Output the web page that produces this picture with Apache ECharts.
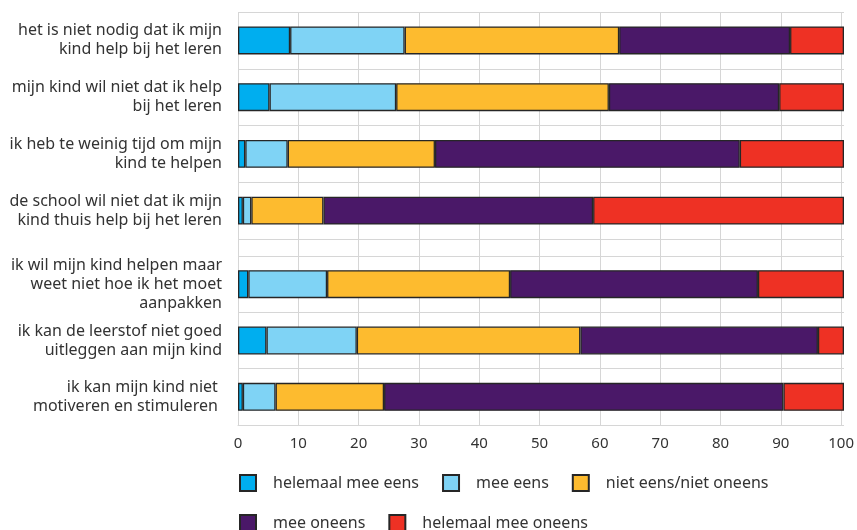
<!DOCTYPE html>
<html>
<head>
<meta charset="utf-8">
<script src="https://cdn.jsdelivr.net/npm/echarts@6/dist/echarts.min.js"></script>
<style>html,body{margin:0;padding:0;background:#fff;}#c{width:857px;height:530px;}</style>
</head>
<body>
<div id="c"></div>
<script>
const categories = [
  "het is niet nodig dat ik mijn\nkind help bij het leren",
  "mijn kind wil niet dat ik help\nbij het leren",
  "ik heb te weinig tijd om mijn\nkind te helpen",
  "de school wil niet dat ik mijn\nkind thuis help bij het leren",
  "ik wil mijn kind helpen maar\nweet niet hoe ik het moet\naanpakken",
  "ik kan de leerstof niet goed\nuitleggen aan mijn kind",
  "ik kan mijn kind niet \nmotiveren en stimuleren "
];
const seriesNames = ["helemaal mee eens", "mee eens", "niet eens/niet oneens", "mee oneens", "helemaal mee oneens"];
const helemaalMeeEens   = [8.6, 5.2, 1.2, 0.8, 1.7, 4.7, 0.8];
const meeEens           = [18.9, 20.9, 7.0, 1.4, 13.0, 14.9, 5.4];
const nietEensNietOneens= [35.4, 35.1, 24.3, 11.9, 30.2, 36.9, 17.9];
const meeOneens         = [28.2, 28.1, 50.3, 44.5, 40.9, 39.2, 65.9];
const helemaalMeeOneens = [8.9, 10.7, 17.2, 41.4, 14.2, 4.3, 10.0];
const xTicks = [0, 10, 20, 30, 40, 50, 60, 70, 80, 90, 100];

const colors = ["#00AEEF", "#7FD3F5", "#FDBB2F", "#4A1868", "#EE3124"];
const values = [helemaalMeeEens, meeEens, nietEensNietOneens, meeOneens, helemaalMeeOneens];
const groupSplit = 4;

const font = "'Noto Sans', sans-serif";
const gridColor = "#d6d6d6";

function yAxisFor(gridIndex, cats) {
  return {
    type: "category", gridIndex: gridIndex, inverse: true, data: cats,
    axisLine: {show: false}, axisTick: {show: false},
    splitLine: {show: true, lineStyle: {color: gridColor, width: 1}},
    axisLabel: {margin: 16, color: "#333", fontFamily: font, fontSize: 16, lineHeight: 19, align: "right"}
  };
}
function hiddenX(gridIndex) {
  return {type: "value", gridIndex: gridIndex, min: 0, max: 100, show: false};
}

const series = [];
[[0, 0, groupSplit], [1, groupSplit, categories.length]].forEach(([g, a, b], gi) => {
  seriesNames.forEach((name, i) => {
    series.push({
      name: name, type: "bar", stack: "s" + gi,
      xAxisIndex: g + 1, yAxisIndex: g + 1,
      barWidth: 28,
      itemStyle: {color: colors[i], borderColor: "#262626", borderWidth: 1.3},
      emphasis: {disabled: true},
      data: values[i].slice(a, b)
    });
  });
});

const legendBase = {
  left: 239, padding: 0, itemWidth: 16, itemHeight: 16, itemGap: 23, icon: "rect",
  textStyle: {color: "#333", fontFamily: font, fontSize: 16, padding: [0, 0, 0, 12]}
};

const chart = echarts.init(document.getElementById("c"), null, {renderer: "canvas"});
chart.setOption({
  animation: false,
  color: colors,
  grid: [
    {left: 238, right: 13, top: 12, bottom: 105},
    {left: 238, right: 13, top: 12, bottom: 291},
    {left: 238, right: 13, top: 256, bottom: 105}
  ],
  xAxis: [
    {type: "value", gridIndex: 0, min: xTicks[0], max: xTicks[xTicks.length - 1], interval: xTicks[1] - xTicks[0],
     axisLine: {show: true, lineStyle: {color: gridColor}}, axisTick: {show: false},
     splitLine: {show: true, lineStyle: {color: gridColor, width: 1}},
     axisLabel: {margin: 11, color: "#333", fontFamily: font, fontSize: 15}},
    hiddenX(1), hiddenX(2)
  ],
  yAxis: [
    {type: "value", gridIndex: 0, show: false},
    yAxisFor(1, categories.slice(0, groupSplit)),
    yAxisFor(2, categories.slice(groupSplit))
  ],
  legend: [
    Object.assign({data: seriesNames.slice(0, 3), top: 474}, legendBase),
    Object.assign({data: seriesNames.slice(3), top: 514}, legendBase)
  ],
  series: series
});
</script>
</body>
</html>
